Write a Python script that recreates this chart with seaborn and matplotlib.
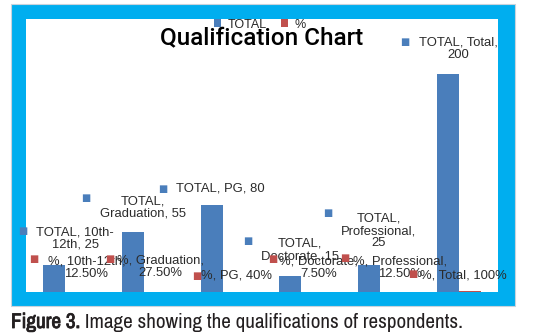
import re

import matplotlib
matplotlib.use("Agg")
import matplotlib.pyplot as plt
import matplotlib.patheffects as pe
from matplotlib.patches import Rectangle
import pandas as pd
import seaborn as sns

# ---- data -----------------------------------------------------------------
categories = ["10th-12th", "Graduation", "PG", "Doctorate", "Professional", "Total"]
totals = [25, 55, 80, 15, 25, 200]
shares = [0.125, 0.275, 0.40, 0.075, 0.125, 1.0]
series_names = ["TOTAL", "%"]
title_text = "Qualification Chart"
caption_bold = "Figure 3."
caption_rest = " Image showing the qualifications of respondents."

# ---- styling --------------------------------------------------------------
sns.set_style("white")
plt.rcParams["font.family"] = ["Liberation Sans", "DejaVu Sans"]

BLUE = "#4A7EBB"
RED = "#C0504D"
FRAME = "#00AEEF"
LABEL_COLOR = "#2b2b2b"
CAPTION_COLOR = "#231f20"
W, H = 540, 336

fig = plt.figure(figsize=(W / 100, H / 100), dpi=100)
fig.patch.set_facecolor("white")

# cyan picture frame with white chart area inside
fig.add_artist(Rectangle((11 / W, 30 / H), 504 / W, 302 / H, transform=fig.transFigure,
                         facecolor=FRAME, edgecolor="#c9d3dc", linewidth=0.8, zorder=-10))
fig.add_artist(Rectangle((26 / W, 44 / H), 472 / W, 273 / H, transform=fig.transFigure,
                         facecolor="white", edgecolor="none", zorder=-9))

ax = fig.add_axes([26 / W, 44 / H, 472 / W, 273 / H])
ax.set_facecolor("none")

df = pd.DataFrame({
    "category": categories * 2,
    "series": [series_names[0]] * len(categories) + [series_names[1]] * len(categories),
    "value": totals + shares,
})

sns.barplot(data=df, x="category", y="value", hue="series", order=categories,
            hue_order=series_names, palette={"TOTAL": BLUE, "%": RED},
            saturation=1, width=0.56, linewidth=0, ax=ax)
ax.set_ylim(0, 250)
ax.set_xlim(-0.5, len(categories) - 0.5)
ax.axis("off")


def fmt_pct(v):
    p = v * 100
    return f"{p:.0f}%" if abs(p - round(p)) < 1e-9 else f"{p:.2f}%"


def wrap(text, width):
    """Greedy wrap that may break after spaces and hyphens."""
    lines, cur = [], ""
    for tok in re.split(r"(?<=[ -])", text):
        if cur and len((cur + tok).rstrip()) > width:
            lines.append(cur.rstrip())
            cur = tok
        else:
            cur += tok
    lines.append(cur.rstrip())
    return "\n".join(lines)


# label offsets (pixels) from the top of each bar: text centre, legend key
total_text_off = [(21, 26), (10, 24.5), (9, 15.8), (10, 25.6), (10, 33.7), (11, 24.5)]
total_key_off = [(-32, 33.7), (-47, 34), (-49, 15.8), (-43, 34.6), (-41, 51.7), (-43, 32)]
total_wrap = [12, 14, 20, 14, 13, 13]
share_text_off = [(10, 24.5), (5, 24.5), (3, 16), (6, 24.5), (9, 24.5), (-6, 15.5)]
share_key_off = [(-43, 33), (-45, 33), (-37, 16), (-40, 33), (-46, 34), (-57, 16.5)]
share_wrap = [14, 14, 20, 13, 16, 20]

half = 0.56 / 4


def bar_label(x, y, text, width, text_off, key_off, color):
    ax.annotate(wrap(text, width), xy=(x, y), xycoords="data",
                xytext=text_off, textcoords="offset pixels", ha="center", va="center",
                multialignment="center", fontsize=9.4, color=LABEL_COLOR,
                annotation_clip=False, zorder=6, linespacing=1.05)
    ax.annotate("\u25A0", xy=(x, y), xycoords="data", xytext=key_off,
                textcoords="offset pixels", ha="center", va="center",
                fontsize=7, color=color, family="DejaVu Sans",
                annotation_clip=False, zorder=6)


for i, cat in enumerate(categories):
    bar_label(i - half, totals[i], f"TOTAL, {cat}, {totals[i]}", total_wrap[i],
              total_text_off[i], total_key_off[i], BLUE)
    bar_label(i + half, shares[i], f"%, {cat}, {fmt_pct(shares[i])}", share_wrap[i],
              share_text_off[i], share_key_off[i], RED)

# title sits under the legend
ax.text(262 / W, 1 - 45 / H, title_text, transform=fig.transFigure, ha="center",
        va="baseline", fontsize=17.5, family="Roboto", fontweight=500,
        color="black", zorder=4)

sns.move_legend(ax, "center", bbox_to_anchor=(260 / W, 1 - 24.5 / H),
                bbox_transform=fig.transFigure, ncol=2, frameon=False, title=None,
                fontsize=9, handlelength=0.56, handleheight=0.56, handletextpad=0.5,
                columnspacing=1.2, borderpad=0)
ax.get_legend().set_zorder(5)

# figure caption: bold lead-in followed by the description
cap = fig.text(11 / W, 1 - 328 / H, caption_bold, fontsize=15.2,
               family="Archivo Narrow", color=CAPTION_COLOR, va="baseline", ha="left",
               path_effects=[pe.withStroke(linewidth=0.6, foreground=CAPTION_COLOR)])
ax.annotate(caption_rest, xy=(1, 0), xycoords=cap, ha="left", va="bottom",
            fontsize=15.2, family="Archivo Narrow", color=CAPTION_COLOR,
            annotation_clip=False)

fig.savefig("out.png", dpi=100)
